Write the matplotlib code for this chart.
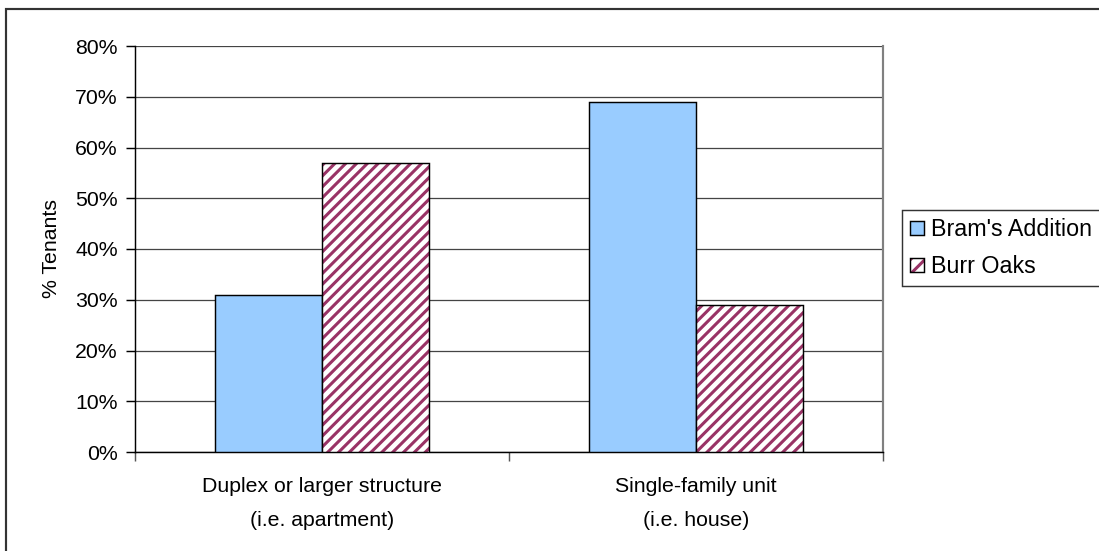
import numpy as np
import matplotlib
matplotlib.use('Agg')
import matplotlib.pyplot as plt
from matplotlib.patches import Rectangle, Patch
from matplotlib.ticker import PercentFormatter, FixedLocator, NullFormatter

plt.rcParams['font.family'] = ['Liberation Sans', 'DejaVu Sans']
plt.rcParams['hatch.linewidth'] = 1.7

categories = ['Duplex or larger structure\n(i.e. apartment)', 'Single-family unit\n(i.e. house)']
brams = [31, 69]
burr = [57, 29]
series_names = ["Bram's Addition", 'Burr Oaks']

blue = '#99ccff'
maroon = '#993366'

DPI = 130
fig = plt.figure(figsize=(1099 / DPI, 551 / DPI), dpi=DPI)
ax = fig.add_axes([135 / 1099, 1 - 452 / 551, (883 - 135) / 1099, (452 - 46) / 551])

fs = 11.8
x = np.arange(len(categories))
w = 0.286

ax.bar(x - w / 2, brams, w, color=blue, edgecolor='black', linewidth=0.8, zorder=3)
# hatched fill first, then a plain black outline on top
ax.bar(x + w / 2, burr, w, color='white', edgecolor=maroon, hatch='////', linewidth=0, zorder=3)
ax.bar(x + w / 2, burr, w, fill=False, edgecolor='black', linewidth=0.8, zorder=4)

ax.set_xlim(-0.5, 1.5)
ax.set_ylim(0, 80)
ax.set_yticks(np.arange(0, 81, 10))
ax.yaxis.set_major_formatter(PercentFormatter(decimals=0))
ax.yaxis.grid(True, color='#444444', linewidth=0.7, zorder=0)

ax.xaxis.set_major_locator(FixedLocator([-0.5, 0.5, 1.5]))
ax.xaxis.set_major_formatter(NullFormatter())
ax.xaxis.set_minor_locator(FixedLocator(x))
ax.set_xticklabels(categories, minor=True)
ax.tick_params(axis='x', which='minor', length=0, pad=14, labelsize=fs)
ax.tick_params(axis='x', which='major', length=5, width=0.8, color='#555555')
ax.tick_params(axis='y', length=5, width=0.8, labelsize=fs, pad=4.5)
for lbl in ax.get_xticklabels(minor=True):
    lbl.set_linespacing(2.0)

ax.set_ylabel('% Tenants', fontsize=fs, labelpad=8)

ax.spines['top'].set_visible(False)
ax.spines['right'].set_color('#808080')
ax.spines['right'].set_linewidth(1.2)
for s in ('left', 'bottom'):
    ax.spines[s].set_color('black')
    ax.spines[s].set_linewidth(0.8)

handles = [Patch(facecolor=blue, edgecolor='black', linewidth=0.8),
           (Patch(facecolor='white', edgecolor=maroon, hatch='///', linewidth=0),
            Patch(fill=False, edgecolor='black', linewidth=0.8))]
leg = fig.legend(handles, series_names, loc='upper left',
                 bbox_to_anchor=(902 / 1099, 1 - 210 / 551), fontsize=12.9,
                 frameon=True, fancybox=False, edgecolor='black',
                 handlelength=0.6, handleheight=0.6, handletextpad=0.3,
                 borderpad=0.35, labelspacing=0.6, borderaxespad=0)
leg.get_frame().set_linewidth(0.8)

# outer chart border
fig.patches.append(Rectangle((6 / 1099, -0.05), 1.2, 1 - 8.5 / 551 + 0.05,
                             transform=fig.transFigure, fill=False,
                             edgecolor='#333333', linewidth=1.2))

fig.savefig('out.png', dpi=DPI)
